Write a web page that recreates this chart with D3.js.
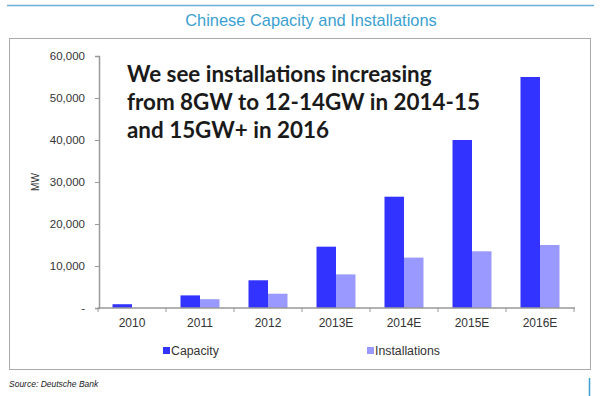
<!DOCTYPE html>
<html>
<head>
<meta charset="utf-8">
<script src="https://cdn.jsdelivr.net/npm/d3@7"></script>
<style>
  body { margin: 0; background: #fff; }
  svg { display: block; font-family: Arial, "Liberation Sans", sans-serif; }
</style>
</head>
<body>
<script>
// Chart data
const years = ['2010', '2011', '2012', '2013E', '2014E', '2015E', '2016E'];
const capacity = [900, 3000, 6600, 14600, 26500, 40000, 55000];
const installations = [0, 2100, 3400, 8000, 12000, 13500, 15000];
const seriesNames = ['Capacity', 'Installations'];
const yTicks = [0, 10000, 20000, 30000, 40000, 50000, 60000];
const noteLines = [
  'We see installations increasing',
  'from 8GW to 12-14GW in 2014-15',
  'and 15GW+ in 2016'
];

const colors = { Capacity: '#3333ff', Installations: '#9999ff' };

const svg = d3.select('body')
  .append('svg')
  .attr('width', 600)
  .attr('height', 396);

// Top rule and title
svg.append('line')
  .attr('x1', 7).attr('x2', 594)
  .attr('y1', 5.5).attr('y2', 5.5)
  .attr('stroke', '#6ab0d4')
  .attr('stroke-width', 1.5);

svg.append('text')
  .attr('x', 311)
  .attr('y', 26)
  .attr('text-anchor', 'middle')
  .attr('fill', '#3a9fd0')
  .attr('font-size', 16.4)
  .text('Chinese Capacity and Installations');

// Chart frame
svg.append('rect')
  .attr('x', 9.5).attr('y', 38.5)
  .attr('width', 581).attr('height', 331)
  .attr('fill', 'none')
  .attr('stroke', '#aaa');

// Scales
const x = d3.scaleBand()
  .domain(years)
  .range([98, 574]);

const xInner = d3.scaleBand()
  .domain(seriesNames)
  .range([14.5, x.bandwidth() - 14.5]);

const y = d3.scaleLinear()
  .domain([0, 60000])
  .range([308, 56]);

// Bars
const rows = years.map((yr, i) => ({ year: yr, Capacity: capacity[i], Installations: installations[i] }));

const groups = svg.selectAll('.group')
  .data(rows)
  .enter()
  .append('g')
  .attr('class', 'group')
  .attr('transform', d => `translate(${x(d.year)},0)`);

groups.selectAll('rect')
  .data(d => seriesNames.map(s => ({ key: s, value: d[s] })))
  .enter()
  .append('rect')
  .attr('x', d => xInner(d.key))
  .attr('y', d => y(d.value))
  .attr('width', xInner.bandwidth())
  .attr('height', d => y(0) - y(d.value))
  .attr('fill', d => colors[d.key]);

// Y axis
const yAxis = d3.axisLeft(y)
  .tickValues(yTicks)
  .tickSize(4)
  .tickPadding(10)
  .tickFormat(d => d === 0 ? '-' : d3.format(',')(d));

const yG = svg.append('g')
  .attr('transform', 'translate(99,0)')
  .call(yAxis);

yG.select('.domain').attr('stroke', '#999').attr('stroke-width', 1.5);
yG.selectAll('.tick line').attr('stroke', '#999');
yG.selectAll('.tick text')
  .attr('font-size', 11.5)
  .attr('font-family', 'Arial, "Liberation Sans", sans-serif')
  .attr('fill', '#333');

// X axis: ticks at category boundaries
const xG = svg.append('g')
  .attr('transform', `translate(0,${y(0)})`);

xG.append('line')
  .attr('x1', 98).attr('x2', 575)
  .attr('stroke', '#999')
  .attr('stroke-width', 1.5);

xG.selectAll('.xtick')
  .data(years.concat(['end']))
  .enter()
  .append('line')
  .attr('class', 'xtick')
  .attr('x1', (d, i) => i < years.length ? x(d) : x(years[years.length - 1]) + x.bandwidth())
  .attr('x2', (d, i) => i < years.length ? x(d) : x(years[years.length - 1]) + x.bandwidth())
  .attr('y1', 0).attr('y2', 4)
  .attr('stroke', '#999');

xG.selectAll('.xlabel')
  .data(years)
  .enter()
  .append('text')
  .attr('class', 'xlabel')
  .attr('x', d => x(d) + x.bandwidth() / 2)
  .attr('y', 18.5)
  .attr('text-anchor', 'middle')
  .attr('font-size', 12)
  .attr('fill', '#333')
  .text(d => d);

// Y axis title
svg.append('text')
  .attr('transform', 'translate(39,182) rotate(-90)')
  .attr('text-anchor', 'middle')
  .attr('font-size', 10)
  .attr('fill', '#333')
  .text('MW');

// Legend
const legendX = [163, 367];
const legend = svg.selectAll('.legend')
  .data(seriesNames)
  .enter()
  .append('g')
  .attr('class', 'legend')
  .attr('transform', (d, i) => `translate(${legendX[i]},347)`);

legend.append('rect')
  .attr('width', 7).attr('height', 7)
  .attr('fill', d => colors[d]);

legend.append('text')
  .attr('x', 8)
  .attr('y', 8)
  .attr('font-size', 12.3)
  .attr('fill', '#333')
  .text(d => d);

// Annotation
svg.append('text')
  .attr('font-family', 'Lato, "Open Sans", sans-serif')
  .attr('font-weight', 'bold')
  .attr('font-size', 22.4)
  .attr('fill', '#1a1a1a')
  .selectAll('tspan')
  .data(noteLines)
  .enter()
  .append('tspan')
  .attr('x', 127)
  .attr('y', (d, i) => 82 + i * 28)
  .text(d => d);

// Source and footer rule
svg.append('text')
  .attr('x', 9)
  .attr('y', 387)
  .attr('font-size', 8.5)
  .attr('font-style', 'italic')
  .attr('fill', '#222')
  .text('Source: Deutsche Bank');

svg.append('line')
  .attr('x1', 589.5).attr('x2', 589.5)
  .attr('y1', 378).attr('y2', 396)
  .attr('stroke', '#3a9fd0')
  .attr('stroke-width', 1.5);
</script>
</body>
</html>
